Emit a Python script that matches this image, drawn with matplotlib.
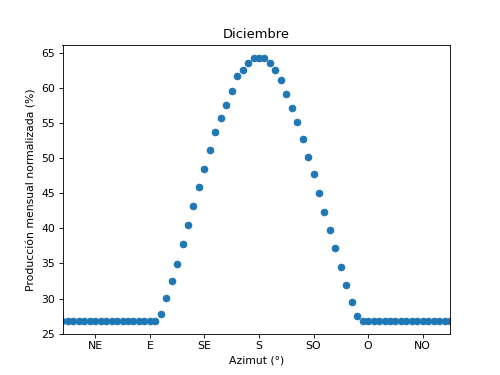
import matplotlib
matplotlib.use('Agg')
import matplotlib.pyplot as plt
import numpy as np

# azimuth in 5 degree steps, south = 0
azimut = np.arange(-180, 180, 5)

# normalised production for December (%)
flat = 26.85
produccion = [flat] * 18 + [
    27.85, 30.07, 32.55, 34.97, 37.76, 40.43, 43.18, 45.88, 48.55, 51.21,
    53.77, 55.77, 57.66, 59.66, 61.70, 62.65, 63.65, 64.26, 64.30, 64.30,
    63.65, 62.65, 61.22, 59.19, 57.19, 55.20, 52.72, 50.21, 47.74, 45.08,
    42.38, 39.71, 37.19, 34.49, 31.93, 29.46, 27.46,
] + [flat] * 17

tick_pos = [-150, -100, -50, 0, 50, 100, 150]
tick_labels = ['NE', 'E', 'SE', 'S', 'SO', 'O', 'NO']

fig, ax = plt.subplots(figsize=(6.4, 4.8), dpi=78.125)
ax.scatter(azimut, produccion)
ax.set_xlim(azimut[0], azimut[-1])
ax.set_xticks(tick_pos)
ax.set_xticklabels(tick_labels)
ax.set_title('Diciembre')
ax.set_xlabel('Azimut (°)')
ax.set_ylabel('Producción mensual normalizada (%)')
fig.savefig('out.png', dpi=78.125)
